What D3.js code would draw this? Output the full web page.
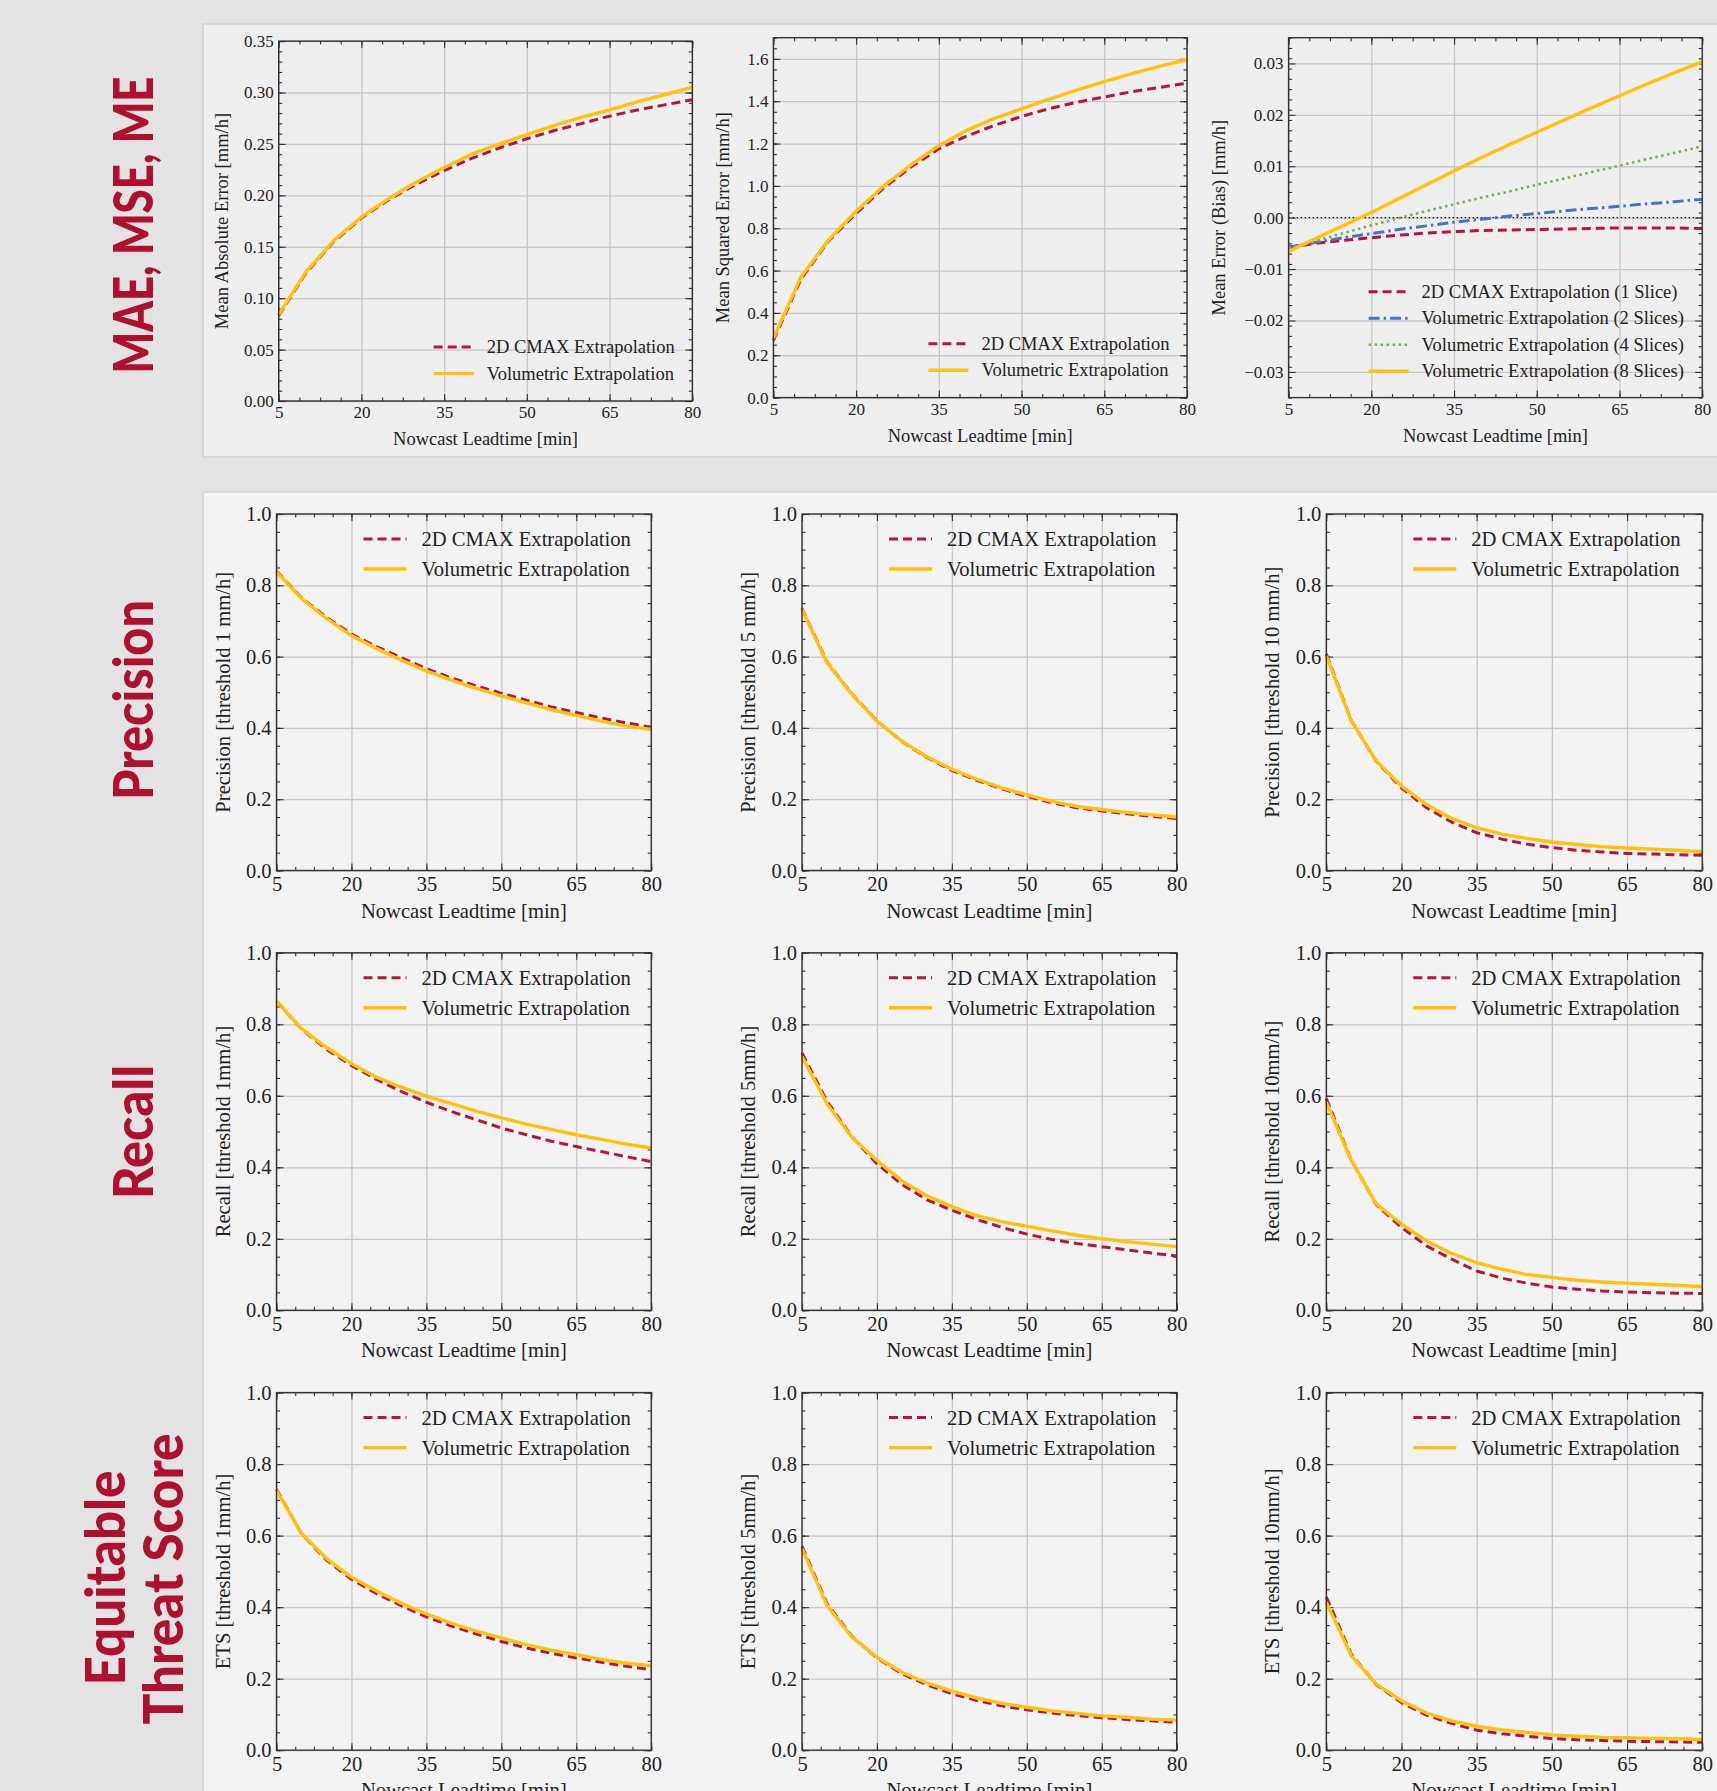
<!DOCTYPE html>
<meta charset="utf-8">
<style>
body { margin: 0; background: #e3e3e3; }
svg { display: block; }
text { font-family: "Liberation Serif", "Times New Roman", serif; fill: #222; }
.grid line { stroke: #c8c8c8; stroke-width: 1.3px; }
.grid path, .ticks path, .labels path { display: none; }
.ticks line { stroke: #333; stroke-width: 1.1px; }
.labels line { display: none; }
.frame { fill: none; stroke: #333; stroke-width: 1.4px; }
.rowlabel { font-family: Lato, "Open Sans", "DejaVu Sans", sans-serif; font-weight: 900; fill: #b01030; }
</style>
<svg width="1717" height="1791"></svg>
<script src="https://d3js.org/d3.v7.min.js"></script>
<script>

var leadtime = [5, 10, 15, 20, 25, 30, 35, 40, 45, 50, 55, 60, 65, 70, 75, 80];
var xTicks = [5, 20, 35, 50, 65, 80];

// MAE / MSE / ME
var maeCmax = [0.083, 0.125, 0.155, 0.178, 0.196, 0.211, 0.224, 0.236, 0.246, 0.255, 0.263, 0.270, 0.277, 0.283, 0.288, 0.293];
var maeVol  = [0.084, 0.126, 0.156, 0.179, 0.197, 0.213, 0.227, 0.240, 0.250, 0.259, 0.268, 0.276, 0.283, 0.291, 0.298, 0.305];
var mseCmax = [0.27, 0.56, 0.74, 0.87, 0.99, 1.09, 1.175, 1.235, 1.285, 1.328, 1.365, 1.395, 1.42, 1.445, 1.465, 1.485];
var mseVol  = [0.28, 0.57, 0.745, 0.88, 1.0, 1.1, 1.19, 1.262, 1.318, 1.364, 1.41, 1.452, 1.493, 1.53, 1.565, 1.597];
var me1 = [-0.0057, -0.0050, -0.0044, -0.0039, -0.0034, -0.0030, -0.0027, -0.0025, -0.0024, -0.0023, -0.0022, -0.0021, -0.0020, -0.0020, -0.0020, -0.0021];
var me2 = [-0.0058, -0.0048, -0.0039, -0.0031, -0.0023, -0.0016, -0.0009, -0.0003, 0.0003, 0.0008, 0.0013, 0.0018, 0.0022, 0.0027, 0.0031, 0.0036];
var me4 = [-0.0060, -0.0045, -0.0030, -0.0015, -0.0001, 0.0013, 0.0026, 0.0039, 0.0051, 0.0064, 0.0076, 0.0089, 0.0101, 0.0114, 0.0126, 0.0139];
var me8 = [-0.0066, -0.0040, -0.0015, 0.0010, 0.0037, 0.0064, 0.0091, 0.0117, 0.0142, 0.0166, 0.0190, 0.0214, 0.0237, 0.0260, 0.0282, 0.0303];

// Precision
var prec1Cmax = [0.840, 0.765, 0.710, 0.663, 0.628, 0.597, 0.566, 0.540, 0.518, 0.497, 0.478, 0.459, 0.443, 0.428, 0.414, 0.402];
var prec1Vol  = [0.838, 0.763, 0.707, 0.659, 0.623, 0.590, 0.560, 0.534, 0.511, 0.490, 0.470, 0.451, 0.435, 0.419, 0.405, 0.396];
var prec5Cmax = [0.735, 0.585, 0.495, 0.420, 0.362, 0.317, 0.281, 0.253, 0.229, 0.208, 0.190, 0.176, 0.167, 0.159, 0.152, 0.146];
var prec5Vol  = [0.733, 0.583, 0.494, 0.419, 0.363, 0.319, 0.284, 0.256, 0.232, 0.212, 0.194, 0.180, 0.171, 0.163, 0.156, 0.150];
var prec10Cmax = [0.607, 0.420, 0.306, 0.232, 0.176, 0.136, 0.106, 0.088, 0.074, 0.064, 0.057, 0.052, 0.048, 0.046, 0.044, 0.043];
var prec10Vol  = [0.602, 0.419, 0.307, 0.237, 0.185, 0.146, 0.120, 0.102, 0.090, 0.080, 0.073, 0.067, 0.063, 0.060, 0.057, 0.053];

// Recall
var rec1Cmax = [0.865, 0.787, 0.730, 0.685, 0.646, 0.612, 0.582, 0.556, 0.533, 0.510, 0.491, 0.473, 0.458, 0.444, 0.430, 0.416];
var rec1Vol  = [0.865, 0.788, 0.735, 0.690, 0.652, 0.624, 0.599, 0.578, 0.557, 0.538, 0.521, 0.506, 0.491, 0.478, 0.465, 0.454];
var rec5Cmax = [0.720, 0.585, 0.485, 0.410, 0.352, 0.309, 0.280, 0.254, 0.232, 0.213, 0.198, 0.187, 0.178, 0.169, 0.160, 0.152];
var rec5Vol  = [0.710, 0.578, 0.484, 0.419, 0.362, 0.320, 0.290, 0.265, 0.248, 0.235, 0.222, 0.210, 0.200, 0.192, 0.185, 0.178];
var rec10Cmax = [0.592, 0.420, 0.295, 0.232, 0.180, 0.143, 0.110, 0.090, 0.076, 0.065, 0.059, 0.054, 0.051, 0.049, 0.048, 0.047];
var rec10Vol  = [0.582, 0.419, 0.297, 0.241, 0.194, 0.159, 0.133, 0.115, 0.100, 0.092, 0.084, 0.079, 0.076, 0.073, 0.070, 0.066];

// ETS
var ets1Cmax = [0.730, 0.605, 0.532, 0.478, 0.438, 0.404, 0.373, 0.347, 0.325, 0.304, 0.286, 0.271, 0.258, 0.246, 0.235, 0.225];
var ets1Vol  = [0.727, 0.606, 0.536, 0.484, 0.445, 0.411, 0.381, 0.355, 0.333, 0.314, 0.295, 0.280, 0.267, 0.254, 0.243, 0.236];
var ets5Cmax = [0.570, 0.410, 0.318, 0.258, 0.214, 0.183, 0.158, 0.139, 0.124, 0.113, 0.104, 0.097, 0.091, 0.086, 0.082, 0.078];
var ets5Vol  = [0.564, 0.405, 0.316, 0.260, 0.218, 0.188, 0.165, 0.146, 0.131, 0.120, 0.110, 0.103, 0.096, 0.092, 0.087, 0.084];
var ets10Cmax = [0.428, 0.268, 0.183, 0.133, 0.098, 0.075, 0.056, 0.046, 0.039, 0.033, 0.029, 0.027, 0.025, 0.024, 0.023, 0.022];
var ets10Vol  = [0.414, 0.264, 0.185, 0.138, 0.104, 0.082, 0.067, 0.057, 0.050, 0.043, 0.039, 0.036, 0.035, 0.033, 0.032, 0.030];

var red = "#b5163b", yellow = "#ffc20a", blue = "#4a73c6", green = "#7aaf5a";

var styles = {
  cmax:  { color: red, width: 3, dash: "9,5", label: "2D CMAX Extrapolation" },
  vol:   { color: yellow, width: 3.4, dash: null, label: "Volumetric Extrapolation" },
  s1:    { color: red, width: 3, dash: "9,5", label: "2D CMAX Extrapolation (1 Slice)" },
  s2:    { color: blue, width: 3, dash: "11,4,2.5,4", label: "Volumetric Extrapolation (2 Slices)" },
  s4:    { color: green, width: 2.6, dash: "2.5,3.5", label: "Volumetric Extrapolation (4 Slices)" },
  s8:    { color: yellow, width: 3.4, dash: null, label: "Volumetric Extrapolation (8 Slices)" }
};

var svg = d3.select("svg");

// background panels
svg.append("rect").attr("x", 203).attr("y", 24).attr("width", 1530).attr("height", 433)
    .attr("fill", "#efefef").attr("stroke", "#d2d2d2").attr("stroke-width", 1.5);
svg.append("rect").attr("x", 203).attr("y", 492).attr("width", 1530).attr("height", 1320)
    .attr("fill", "#f3f3f3").attr("stroke", "#d2d2d2").attr("stroke-width", 1.5);

// row titles (drawn smaller, then stretched across so the glyphs keep their weight)
function rowLabel(text, cx, cy, len) {
  svg.append("text").attr("class", "rowlabel")
      .attr("transform", "translate(" + cx + "," + cy + ") rotate(-90) scale(1,1.19)")
      .attr("text-anchor", "middle").attr("dominant-baseline", "central")
      .attr("font-size", 47)
      .attr("textLength", len).attr("lengthAdjust", "spacingAndGlyphs")
      .text(text);
}
rowLabel("MAE, MSE, ME", 131, 225, 297);
rowLabel("Precision", 131, 700, 200);
rowLabel("Recall", 131, 1132, 134);
rowLabel("Equitable", 103, 1578, 215);
rowLabel("Threat Score", 161, 1579, 291);

var bottomCols = [[276.5, 651.2], [802, 1176.7], [1326.3, 1702.2]];
var bottomRows = [[514, 870.5], [952.8, 1310.3], [1392.6, 1750.2]];
var unitTicks = [0, 0.2, 0.4, 0.6, 0.8, 1.0];

var plots = [
  { box: [278.7, 41.1, 692.3, 401.0], small: true, yDomain: [0, 0.35], yTicks: d3.range(0, 0.351, 0.05), yMinor: 0.01, fmt: ".2f",
    ylabel: "Mean Absolute Error [mm/h]", yl: -57,
    series: [[maeCmax, "cmax"], [maeVol, "vol"]], legend: { x: 155, y: 306 } },
  { box: [773.4, 37.7, 1187, 397.6], small: true, yDomain: [0, 1.7], yTicks: d3.range(0, 1.61, 0.2), yMinor: 0.05, fmt: ".1f",
    ylabel: "Mean Squared Error [mm/h]", yl: -50,
    series: [[mseCmax, "cmax"], [mseVol, "vol"]], legend: { x: 155, y: 306 } },
  { box: [1288.6, 37.7, 1702.2, 397.6], small: true, yDomain: [-0.035, 0.035], yTicks: d3.range(-0.03, 0.031, 0.01), yMinor: 0.002, fmt: ".2f",
    ylabel: "Mean Error (Bias) [mm/h]", yl: -70, zero: true,
    series: [[me1, "s1"], [me2, "s2"], [me4, "s4"], [me8, "s8"]], legend: { x: 80, y: 254 } }
];

var grid = [
  [["Precision [threshold 1 mm/h]", prec1Cmax, prec1Vol], ["Precision [threshold 5 mm/h]", prec5Cmax, prec5Vol], ["Precision [threshold 10 mm/h]", prec10Cmax, prec10Vol]],
  [["Recall [threshold 1mm/h]", rec1Cmax, rec1Vol], ["Recall [threshold 5mm/h]", rec5Cmax, rec5Vol], ["Recall [threshold 10mm/h]", rec10Cmax, rec10Vol]],
  [["ETS [threshold 1mm/h]", ets1Cmax, ets1Vol], ["ETS [threshold 5mm/h]", ets5Cmax, ets5Vol], ["ETS [threshold 10mm/h]", ets10Cmax, ets10Vol]]
];
grid.forEach(function(row, r) {
  row.forEach(function(cell, c) {
    plots.push({ box: [bottomCols[c][0], bottomRows[r][0], bottomCols[c][1], bottomRows[r][1]], small: false,
      yDomain: [0, 1], yTicks: unitTicks, yMinor: 0.05, fmt: ".1f", ylabel: cell[0], yl: -54,
      series: [[cell[1], "cmax"], [cell[2], "vol"]], legend: { x: 87, y: 25 } });
  });
});

plots.forEach(drawPlot);

function drawPlot(p) {
  var w = p.box[2] - p.box[0], h = p.box[3] - p.box[1];
  var fs = p.small ? 17 : 20.5;       // tick labels
  var ts = p.small ? 18.5 : 20.6;     // axis titles and legend
  var g = svg.append("g").attr("transform", "translate(" + p.box[0] + "," + p.box[1] + ")");
  var x = d3.scaleLinear().domain([5, 80]).range([0, w]);
  var y = d3.scaleLinear().domain(p.yDomain).range([h, 0]);

  var xMinor = d3.range(5, 80.01, 3.75);
  var yMinor = d3.range(p.yDomain[0], p.yDomain[1] + 1e-9, p.yMinor);

  // grid
  g.append("g").attr("class", "grid").attr("transform", "translate(0," + h + ")")
      .call(d3.axisBottom(x).tickValues(xTicks).tickSize(-h).tickFormat(""));
  g.append("g").attr("class", "grid")
      .call(d3.axisLeft(y).tickValues(p.yTicks).tickSize(-w).tickFormat(""));

  if (p.zero) {
    g.append("line").attr("x1", 0).attr("x2", w).attr("y1", y(0)).attr("y2", y(0))
        .attr("stroke", "#111").attr("stroke-width", 1.3).attr("stroke-dasharray", "1.5,2.5");
  }

  // inward ticks, all four sides
  [[d3.axisBottom, "translate(0," + h + ")", x, xMinor, xTicks],
   [d3.axisTop, "translate(0,0)", x, xMinor, xTicks],
   [d3.axisLeft, "translate(0,0)", y, yMinor, p.yTicks],
   [d3.axisRight, "translate(" + w + ",0)", y, yMinor, p.yTicks]].forEach(function(a) {
    g.append("g").attr("class", "ticks").attr("transform", a[1])
        .call(a[0](a[2]).tickValues(a[3]).tickSize(-3.5).tickFormat(""));
    g.append("g").attr("class", "ticks").attr("transform", a[1])
        .call(a[0](a[2]).tickValues(a[4]).tickSize(-7).tickFormat(""));
  });

  // lines
  var line = d3.line().x(function(d, i) { return x(leadtime[i]); }).y(function(d) { return y(d); });
  p.series.forEach(function(s) {
    var st = styles[s[1]];
    g.append("path").datum(s[0])
        .attr("fill", "none").attr("stroke", st.color).attr("stroke-width", st.width)
        .attr("stroke-dasharray", st.dash).attr("stroke-linejoin", "round")
        .attr("d", line);
  });

  g.append("rect").attr("class", "frame").attr("width", w).attr("height", h);

  // tick labels
  var xl = g.append("g").attr("class", "labels").attr("transform", "translate(0," + h + ")")
      .call(d3.axisBottom(x).tickValues(xTicks).tickSize(0).tickPadding(p.small ? 5 : 6));
  xl.selectAll("text").attr("font-size", fs);
  var yla = g.append("g").attr("class", "labels")
      .call(d3.axisLeft(y).tickValues(p.yTicks).tickSize(0).tickPadding(5).tickFormat(d3.format(p.fmt)));
  yla.selectAll("text").attr("font-size", fs);

  // axis titles
  g.append("text").attr("x", w / 2).attr("y", h + (p.small ? 38 : 40))
      .attr("text-anchor", "middle").attr("dominant-baseline", "central")
      .attr("font-size", ts).text("Nowcast Leadtime [min]");
  g.append("text").attr("transform", "translate(" + p.yl + "," + (h / 2) + ") rotate(-90)")
      .attr("text-anchor", "middle").attr("dominant-baseline", "central")
      .attr("font-size", ts).text(p.ylabel);

  // legend
  var step = p.small ? 26.5 : 30;
  var llen = p.small ? 40 : 43;
  var leg = g.append("g").attr("transform", "translate(" + p.legend.x + "," + p.legend.y + ")");
  p.series.forEach(function(s, i) {
    var st = styles[s[1]];
    leg.append("line").attr("x1", 0).attr("x2", llen).attr("y1", i * step).attr("y2", i * step)
        .attr("stroke", st.color).attr("stroke-width", st.width).attr("stroke-dasharray", st.dash);
    leg.append("text").attr("x", llen + (p.small ? 13 : 15)).attr("y", i * step)
        .attr("dominant-baseline", "central").attr("font-size", ts)
        .text(st.label);
  });
}

</script>
